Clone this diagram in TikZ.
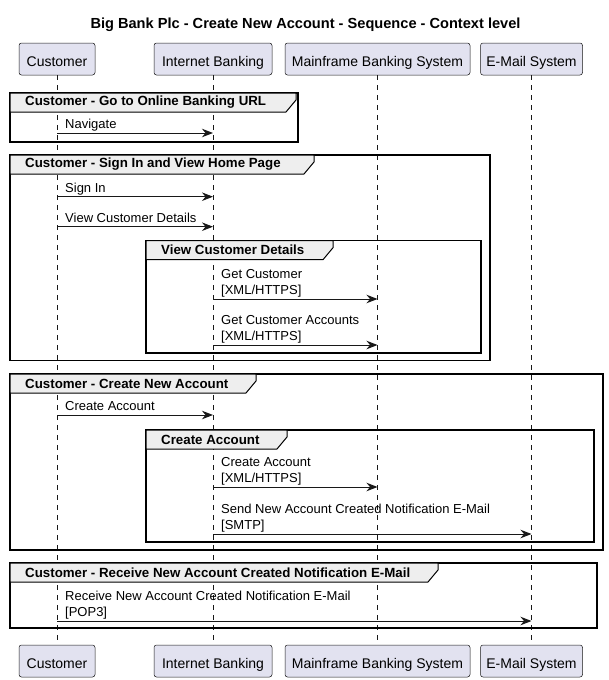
\documentclass[tikz,border=0pt]{standalone}
\usepackage{fontspec}
\setmainfont{Liberation Sans}
\usetikzlibrary{arrows.meta}
\definecolor{partfill}{HTML}{E2E2F0}
\definecolor{linecol}{HTML}{181818}
\definecolor{tabfill}{HTML}{EEEEEE}
\newcommand\seqframe[7]{%
  \draw[seqfr] (#1,#2) rectangle (#3,#4);
  \draw[seqtab] (#1,#2) -- (#5,#2) -- (#5,{#2+7}) -- ({#5-10},{#2+19}) -- (#1,{#2+19}) -- cycle;
  \node[frametitle] (#7) at ({#1+15},{#2+9.5}) {#6};
}
\begin{document}
\begin{tikzpicture}[x=1pt,y=-1pt,
  part/.style={draw=linecol, line width=0.5pt, fill=partfill, rounded corners=2.5pt,
    font=\fontsize{14}{16}\selectfont, inner sep=0pt, minimum height=32pt,
    text height=14pt, text depth=0pt},
  lifeline/.style={draw=linecol, line width=0.5pt, dash pattern=on 5pt off 5pt},
  msg/.style={draw=linecol, line width=1pt, -{Stealth[length=11pt,width=8.5pt,inset=3.5pt]}},
  msgtext/.style={font=\fontsize{13}{16.5}\selectfont, anchor=south west, inner sep=0pt,
    align=left, text depth=3pt, text=black},
  seqfr/.style={draw=black, line width=1.5pt},
  seqtab/.style={draw=black, line width=1pt, fill=tabfill},
  frametitle/.style={font=\bfseries\fontsize{13.3}{15}\selectfont, anchor=west, inner sep=0pt},
]
\useasboundingbox (0,0) rectangle (608,680);
\node[font=\bfseries\fontsize{14.6}{16}\selectfont] (title) at (305.5,25) {Big Bank Plc - Create New Account - Sequence - Context level};

% participants
\node[part, minimum width=76pt] (cT) at (57,59) {Customer};
\node[part, minimum width=118pt] (ibT) at (213,59) {Internet Banking};
\node[part, minimum width=185pt] (mbT) at (377.5,59) {Mainframe Banking System};
\node[part, minimum width=102pt] (emT) at (531.5,59) {E-Mail System};
\node[part, minimum width=76pt] (cB) at (57,661) {Customer};
\node[part, minimum width=118pt] (ibB) at (213,661) {Internet Banking};
\node[part, minimum width=185pt] (mbB) at (377.5,661) {Mainframe Banking System};
\node[part, minimum width=102pt] (emB) at (531.5,661) {E-Mail System};

% lifelines
\draw[lifeline] (cT) -- (cB);
\draw[lifeline] (ibT) -- (ibB);
\draw[lifeline] (mbT) -- (mbB);
\draw[lifeline] (emT) -- (emB);

% frames
\seqframe{10}{93}{298}{142}{296}{Customer - Go to Online Banking URL}{f1}
\seqframe{10}{155}{490}{360.5}{314}{Customer - Sign In and View Home Page}{f2}
\seqframe{146}{240.7}{481}{353}{333}{View Customer Details}{f2i}
\seqframe{10}{374}{603}{550}{256}{Customer - Create New Account}{f3}
\seqframe{146}{430}{594}{542}{287}{Create Account}{f3i}
\seqframe{10}{563}{597}{628}{438}{Customer - Receive New Account Created Notification E-Mail}{f4}

% messages
\draw[msg] (cT |- 0,133) -- (ibT |- 0,133);
\node[msgtext] (l1) at (65,132) {Navigate};

\draw[msg] (cT |- 0,196.7) -- (ibT |- 0,196.7);
\node[msgtext] (l2) at (65,195.7) {Sign In};

\draw[msg] (cT |- 0,226.7) -- (ibT |- 0,226.7);
\node[msgtext] (l3) at (65,225.7) {View Customer Details};

\draw[msg] (ibT |- 0,299) -- (mbT |- 0,299);
\node[msgtext] (l4) at (221,298) {Get Customer\\{}[XML/HTTPS]};

\draw[msg] (ibT |- 0,345) -- (mbT |- 0,345);
\node[msgtext] (l5) at (221,344) {Get Customer Accounts\\{}[XML/HTTPS]};

\draw[msg] (cT |- 0,415) -- (ibT |- 0,415);
\node[msgtext] (l6) at (65,414) {Create Account};

\draw[msg] (ibT |- 0,487) -- (mbT |- 0,487);
\node[msgtext] (l7) at (221,486) {Create Account\\{}[XML/HTTPS]};

\draw[msg] (ibT |- 0,534) -- (emT |- 0,534);
\node[msgtext] (l8) at (221,533) {Send New Account Created Notification E-Mail\\{}[SMTP]};

\draw[msg] (cT |- 0,621) -- (emT |- 0,621);
\node[msgtext] (l9) at (65,620) {Receive New Account Created Notification E-Mail\\{}[POP3]};
\end{tikzpicture}
\end{document}
